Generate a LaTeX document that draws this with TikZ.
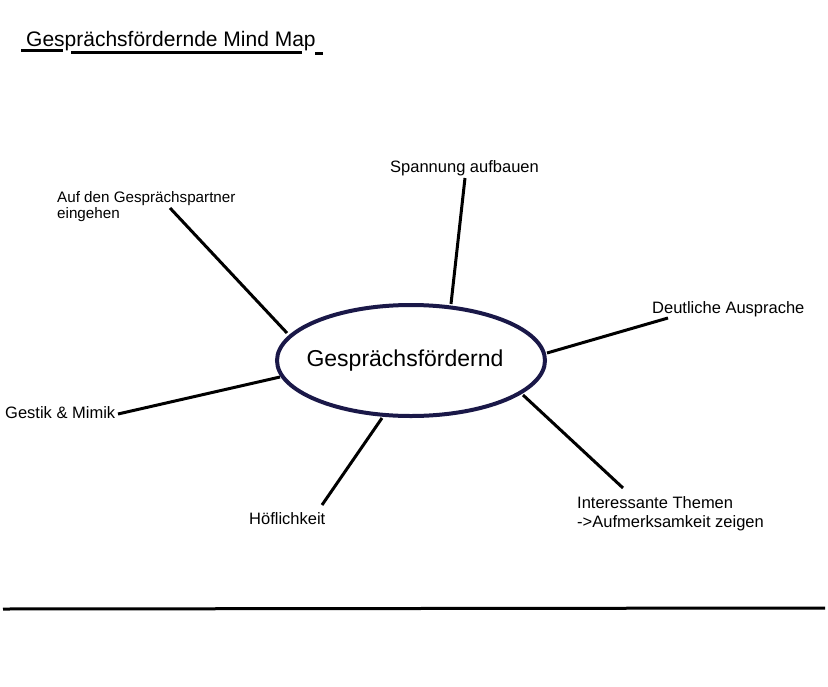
\documentclass[tikz,border=0pt]{standalone}
\usepackage{fontspec}
\setmainfont{Liberation Sans}
\usetikzlibrary{shapes.geometric}
\definecolor{navy}{RGB}{26,24,72}
\begin{document}
\begin{tikzpicture}[x=1pt,y=-1pt,
  lbl/.style={inner sep=0pt,anchor=base west,font=\fontsize{16.5}{19}\selectfont},
  mlbl/.style={inner sep=0pt,anchor=north west,align=left},
  conn/.style={line width=3pt,black},
  uline/.style={line width=2.4pt,black}]
\useasboundingbox (0,0) rectangle (828,686);
% title
\node[inner sep=0pt,anchor=base west,font=\fontsize{21}{25}\selectfont] (title) at (26,46.5) {Gesprächsfördernde Mind Map};
\coordinate (u1a) at (21,50.5); \coordinate (u1b) at (63,50.5);
\coordinate (u2a) at (71,52.5); \coordinate (u2b) at (302,52.5);
\coordinate (u3a) at (315,53.5); \coordinate (u3b) at (323,53.5);
\draw[uline] (u1a) -- (u1b);
\draw[uline] (u2a) -- (u2b);
\draw[uline] (u3a) -- (u3b);
% center
\node[ellipse,draw=navy,line width=4pt,minimum width=268pt,minimum height=111pt,inner sep=0pt,
  font=\fontsize{23}{27}\selectfont] (c) at (411,360.5) {\raisebox{5.5pt}{\makebox[0pt]{\hspace{-12pt}Gesprächsfördernd}}};
% labels
\node[mlbl,font=\fontsize{15.2}{16}\selectfont] (auf) at (57,191) {Auf den Gesprächspartner\\eingehen};
\node[lbl] (span) at (390,172) {Spannung aufbauen};
\node[lbl] (deut) at (652,313) {Deutliche Ausprache};
\node[lbl] (gest) at (5,418) {Gestik \& Mimik};
\node[lbl] (hoef) at (249,524) {Höflichkeit};
\node[mlbl,font=\fontsize{16.5}{19}\selectfont] (inter) at (577,496.5) {Interessante Themen\\->Aufmerksamkeit zeigen};
% connector ends
\coordinate (a1) at (170,208); \coordinate (a2) at (287,333);
\coordinate (s1) at (465,178); \coordinate (s2) at (451,304);
\coordinate (d1) at (668,318); \coordinate (d2) at (547,353);
\coordinate (g1) at (118,414); \coordinate (g2) at (280,377);
\coordinate (h1) at (322,505); \coordinate (h2) at (382,418);
\coordinate (i1) at (623,488); \coordinate (i2) at (523,395);
\draw[conn] (a1) -- (a2);
\draw[conn] (s1) -- (s2);
\draw[conn] (d1) -- (d2);
\draw[conn] (g1) -- (g2);
\draw[conn] (h1) -- (h2);
\draw[conn] (i1) -- (i2);
% bottom rule
\coordinate (b1) at (3,609); \coordinate (b2) at (825,608);
\draw[line width=3pt] (b1) -- (b2);
\end{tikzpicture}
\end{document}
